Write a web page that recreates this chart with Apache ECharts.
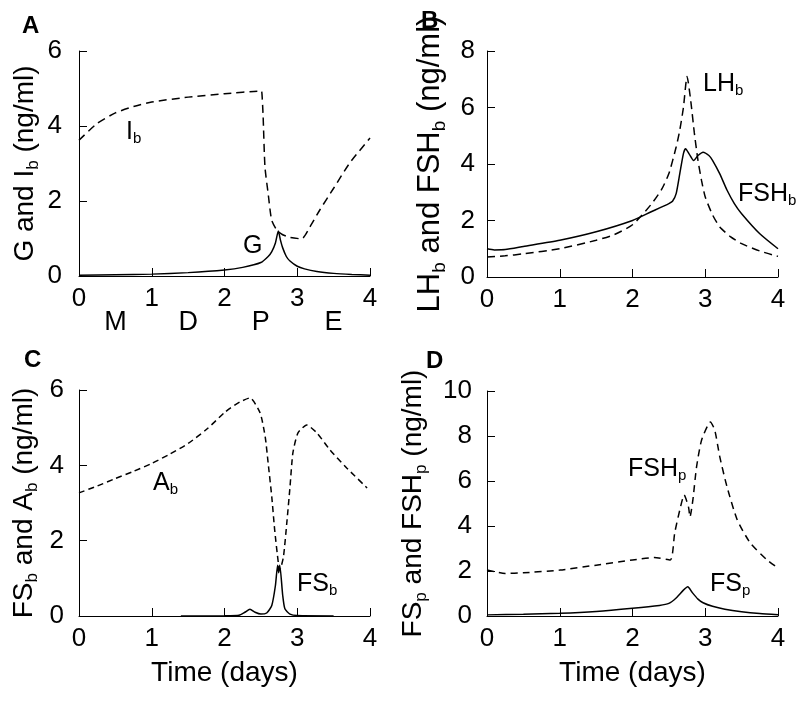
<!DOCTYPE html>
<html><head><meta charset="utf-8">
<script src="https://cdn.jsdelivr.net/npm/echarts@6/dist/echarts.min.js"></script>
<style>html,body{margin:0;padding:0;background:#fff}#c{width:800px;height:707px}</style>
</head><body><div id="c"></div>
<script>
// ---- data (time in days, concentration in ng/ml) ----
const xTickVals = [0, 1, 2, 3, 4];
const phaseLabels = ['M', 'D', 'P', 'E'];
const phaseCenters = [0.5, 1.5, 2.5, 3.5];

// Panel A
const ibT = [0,0.25,0.5,0.75,1,1.5,2,2.5,2.51,2.53,2.556,2.6,2.648,2.72,2.8,2.9,3.06,3.175,3.31,3.5,3.72,4];
const ibV = [3.62,4.07,4.35,4.52,4.64,4.77,4.86,4.93,4.93,4.3,2.91,2.2,1.49,1.22,1.1,1.03,0.99,1.31,1.76,2.34,3.01,3.68];
const gT = [0,0.5,1,1.5,2,2.25,2.5,2.6,2.65,2.7,2.74,2.77,2.8,2.85,2.9,3.0,3.1,3.27,3.5,3.75,4];
const gV = [0.02,0.035,0.05,0.09,0.16,0.23,0.36,0.52,0.65,0.88,1.2,0.95,0.75,0.52,0.4,0.26,0.19,0.12,0.07,0.04,0.02];

// Panel B
const lhT = [0,0.25,0.5,1,1.5,1.75,2,2.25,2.4,2.5,2.6,2.65,2.7,2.75,2.8,2.85,2.9,2.95,3,3.1,3.2,3.35,3.5,3.75,4];
const lhV = [0.71,0.75,0.82,1.0,1.3,1.5,1.85,2.55,3.1,3.66,4.6,5.2,6.0,7.1,6.25,5.1,4.13,3.4,2.83,2.2,1.77,1.42,1.18,0.92,0.73];
const fshbT = [0,0.1,0.25,0.5,1,1.5,2,2.25,2.5,2.55,2.6,2.65,2.7,2.73,2.78,2.84,2.9,2.97,3.05,3.1,3.2,3.3,3.4,3.5,3.75,4];
const fshbV = [1.0,0.96,0.97,1.08,1.3,1.6,2.0,2.3,2.6,2.68,2.95,3.66,4.37,4.54,4.35,4.12,4.3,4.42,4.3,4.13,3.65,3.07,2.6,2.24,1.53,1.0];

// Panel C
const abT = [0,0.25,0.5,0.75,1,1.25,1.5,1.75,2,2.08,2.21,2.35,2.49,2.56,2.6,2.65,2.69,2.74,2.76,2.81,2.86,2.9,2.94,3.01,3.13,3.27,3.45,3.68,3.96];
const abV = [3.27,3.45,3.65,3.84,4.05,4.3,4.58,4.95,5.4,5.52,5.68,5.79,5.39,4.75,4.06,3.16,2.28,1.41,1.22,1.57,2.55,3.42,4.33,4.86,5.07,4.86,4.41,3.93,3.4];
const fsbT = [1.4,2.0,2.2,2.28,2.35,2.42,2.5,2.58,2.65,2.7,2.73,2.745,2.76,2.8,2.83,2.9,3.0,3.5];
const fsbV = [0,0.005,0.02,0.1,0.18,0.1,0.05,0.08,0.28,0.81,1.35,1.15,1.35,0.55,0.19,0.05,0.01,0];

// Panel D
const fshpT = [0,0.25,0.5,1,1.5,2,2.3,2.52,2.58,2.65,2.71,2.77,2.79,2.83,2.88,2.95,3.07,3.13,3.2,3.3,3.44,3.62,3.85,4];
const fshpV = [2.04,1.89,1.92,2.04,2.26,2.49,2.6,2.49,3.69,4.71,5.38,4.84,4.4,5.16,6.62,7.82,8.62,8.27,7.07,5.73,4.27,3.24,2.49,2.13];
const fspT = [0,0.5,1,1.5,2,2.37,2.5,2.6,2.7,2.76,2.82,2.9,2.97,3.1,3.27,3.5,3.75,4];
const fspV = [0.05,0.08,0.12,0.2,0.34,0.47,0.56,0.8,1.15,1.3,1.05,0.75,0.59,0.43,0.3,0.19,0.11,0.06];

// ---- chart ----
const F = '"Liberation Sans", Arial, sans-serif';
const zip = (t, v) => t.map((x, i) => [x, v[i]]);
const chart = echarts.init(document.getElementById('c'), null, {renderer: 'canvas'});

function nameRich(fs) {
  return {
    m: {fontSize: fs, lineHeight: fs, verticalAlign: 'middle', fontFamily: F, color: '#000'},
    s: {fontSize: Math.round(fs * 0.6), lineHeight: Math.round(fs * 1.22), verticalAlign: 'bottom', fontFamily: F, color: '#000'}
  };
}
const labRich = {
  m: {fontSize: 25, lineHeight: 25, verticalAlign: 'middle', fontFamily: F, color: '#000'},
  s: {fontSize: 15, lineHeight: 29, verticalAlign: 'bottom', fontFamily: F, color: '#000'}
};
const letterRich = {
  L: {fontSize: 24, fontWeight: 'bold', fontFamily: F, color: '#000', lineHeight: 24}
};

const grids = [
  {left: 79, top: 51, width: 291, height: 225},
  {left: 487, top: 51, width: 291, height: 226},
  {left: 79, top: 390, width: 291, height: 226},
  {left: 487, top: 391, width: 291, height: 225}
];

function xAx(gi, name) {
  const a = {
    type: 'value', gridIndex: gi, min: 0, max: 4, interval: 1,
    axisLine: {show: true, onZero: false, lineStyle: {color: '#000', width: 1}},
    axisTick: {show: true, inside: true, length: 8, lineStyle: {color: '#000', width: 1}},
    axisLabel: {color: '#000', fontSize: 26, fontFamily: F, margin: 10},
    splitLine: {show: false}
  };
  if (name) {
    a.name = name; a.nameLocation = 'middle'; a.nameGap = 43;
    a.nameTextStyle = {color: '#000', fontSize: 28, fontFamily: F, lineHeight: 28};
  }
  return a;
}
function yAx(gi, max, name, gap, margin, fs) {
  return {
    type: 'value', gridIndex: gi, min: 0, max: max, interval: 2,
    axisLine: {show: true, onZero: false, lineStyle: {color: '#000', width: 1}},
    axisTick: {show: true, inside: true, length: 8, lineStyle: {color: '#000', width: 1}},
    axisLabel: {color: '#000', fontSize: 26, fontFamily: F, margin: margin},
    splitLine: {show: false},
    name: name, nameLocation: 'middle', nameRotate: 90, nameGap: gap,
    nameTextStyle: {color: '#000', fontSize: fs, fontFamily: F, rich: nameRich(fs)}
  };
}

function line(data, xi, dashed, dash) {
  return {
    type: 'line', xAxisIndex: xi, yAxisIndex: xi, data: data, symbol: 'none',
    smooth: 0.2, silent: true, clip: false,
    lineStyle: {color: '#000', width: 1.5, type: dashed ? (dash || [7, 4]) : 'solid'}
  };
}

function label(x, yc, main, sub) {
  return {
    type: 'text', x: x, y: yc - 14.5, silent: true,
    style: {text: '{m|' + main + '}' + (sub ? '{s|' + sub + '}' : ''), rich: labRich,
      align: 'left', textAlign: 'left', verticalAlign: 'top', textVerticalAlign: 'top', fill: '#000'}
  };
}
function letter(x, yc, t) {
  return {
    type: 'text', x: x, y: yc - 12, silent: true,
    style: {text: '{L|' + t + '}', rich: letterRich, fill: '#000', align: 'left', textAlign: 'left',
      verticalAlign: 'top', textVerticalAlign: 'top'}
  };
}

const graphics = [
  letter(22, 26, 'A'), letter(421, 21, 'B'), letter(24, 360, 'C'), letter(426, 361, 'D'),
  label(126, 132, 'I', 'b'), label(243, 248, 'G'),
  label(703, 84, 'LH', 'b'), label(738, 194, 'FSH', 'b'),
  label(153, 483, 'A', 'b'), label(297, 584, 'FS', 'b'),
  label(628, 469, 'FSH', 'p'), label(710, 584, 'FS', 'p')
];

const option = {
  animation: false,
  backgroundColor: '#fff',
  grid: grids,
  xAxis: [xAx(0), xAx(1), xAx(2, 'Time (days)'), xAx(3, 'Time (days)')],
  yAxis: [
    yAx(0, 6, '{m|G and I}{s|b}{m| (ng/ml)}', 37, 17, 28),
    yAx(1, 8, '{m|LH}{s|b}{m| and FSH}{s|b}{m| (ng/ml)}', 38, 12, 31),
    yAx(2, 6, '{m|FS}{s|b}{m| and A}{s|b}{m| (ng/ml)}', 38, 15, 28),
    yAx(3, 10, '{m|FS}{s|p}{m| and FSH}{s|p}{m| (ng/ml)}', 57, 15, 28)
  ],
  series: [
    line(zip(ibT, ibV), 0, true, [8, 5]),
    line(zip(gT, gV), 0, false),
    line(zip(lhT, lhV), 1, true, [8, 5]),
    line(zip(fshbT, fshbV), 1, false),
    line(zip(abT, abV), 2, true, [6, 4]),
    line(zip(fsbT, fsbV), 2, false),
    line(zip(fshpT, fshpV), 3, true, [7, 5]),
    line(zip(fspT, fspV), 3, false)
  ],
  graphic: graphics
};
chart.setOption(option);

// phase labels under panel A, placed through the axis scale
const phaseG = phaseLabels.map((p, i) => {
  const px = chart.convertToPixel({xAxisIndex: 0}, phaseCenters[i]);
  return {type: 'text', x: px, y: 323, silent: true,
    style: {text: p, fontSize: 27, fontFamily: F, fill: '#000', align: 'center', textAlign: 'center',
      verticalAlign: 'middle', textVerticalAlign: 'middle'}};
});
chart.setOption({graphic: graphics.concat(phaseG)});
</script>
</body></html>
